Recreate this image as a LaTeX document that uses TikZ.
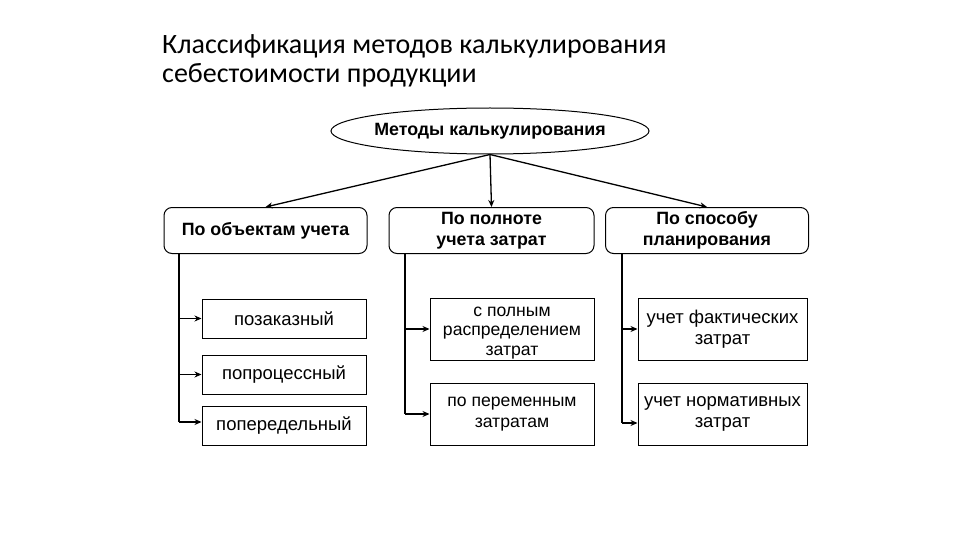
\documentclass[tikz,border=0pt]{standalone}
\usepackage{fontspec}
\setmainfont{Liberation Sans}
\newfontfamily\titlefont{Carlito}
\usetikzlibrary{arrows.meta, positioning, shapes.geometric}

\begin{document}
\begin{tikzpicture}[
    x=1pt, y=-1pt,
    font=\fontsize{18.5}{21}\selectfont,
    >={Stealth[length=7pt, width=6pt]},
    method/.style={draw, line width=1pt, ellipse, inner xsep=-3.5pt, inner ysep=0pt,
                   minimum width=318pt, minimum height=46pt,
                   font=\bfseries\fontsize{17.8}{21}\selectfont},
    group/.style={draw, line width=1pt, rounded corners=8pt, align=center,
                  inner sep=0pt, minimum width=203pt, minimum height=46pt,
                  font=\bfseries\fontsize{17.8}{20.5}\selectfont},
    kind/.style={draw, line width=1pt, align=center, inner sep=0pt,
                 minimum width=164pt},
    arrow/.style={->, line width=1.3pt},
    bus/.style={line width=1.6pt},
]
\useasboundingbox (0,0) rectangle (960,540);

\node[anchor=north west, align=left, inner sep=0pt,
      font=\titlefont\fontsize{28}{29.5}\selectfont] (title) at (162,34)
    {Классификация методов калькулирования\\себестоимости продукции};

\node[method] (calc) at (490,131) {Методы калькулирования};

\node[group] (objects) at (265.5,230.5) {По объектам учета};
\node[group, minimum width=205pt] (fullness) at (491.5,230.5) {По полноте\\учета затрат};
\node[group] (planning) at (707,230.5) {По способу\\планирования};

\draw[arrow] (calc.south) -- (objects.north);
\draw[arrow] (calc.south) -- (fullness.north);
\draw[arrow] (calc.south) -- (planning.north);

% by objects
\node[kind, minimum height=39pt] (order) at (284,318.5) {позаказный};
\node[kind, minimum height=39pt] (process) at (284,374.5) {попроцессный};
\node[kind, minimum height=39pt] (stage) at (284,426) {попередельный};

\coordinate (lbus) at (179,253);
\coordinate (lend) at (179,422);
\draw[bus] (lbus) -- (lend);
\draw[arrow] (lbus |- order.west) -- (order.west);
\draw[arrow] (lbus |- process.west) -- (process.west);
\draw[arrow] (lend) -- (lend -| stage.west);

% by fullness
\node[kind, minimum height=62pt, font=\fontsize{17.6}{19.5}\selectfont] (full) at (512,329)
    {\rule{0pt}{17pt}с полным\\распределением\\затрат};
\node[kind, minimum height=62pt, font=\fontsize{17.6}{20.5}\selectfont] (variable) at (512,414)
    {по переменным\\затратам};

\coordinate (mbus) at (405,253);
\draw[bus] (mbus) -- (mbus |- variable.west);
\draw[arrow] (mbus |- full.west) -- (full.west);
\draw[arrow] (mbus |- variable.west) -- (variable.west);

% by planning
\node[kind, minimum width=169pt, minimum height=62pt] (actual) at (722.5,329) {учет фактических\\затрат};
\node[kind, minimum width=169pt, minimum height=62pt] (norm) at (722.5,414) {учет нормативных\\затрат};

\coordinate (rbus) at (622,253);
\coordinate (rend) at (622,423);
\draw[bus] (rbus) -- (rend);
\draw[arrow] (rbus |- actual.west) -- (actual.west);
\draw[arrow] (rend) -- (rend -| norm.west);

\end{tikzpicture}
\end{document}
